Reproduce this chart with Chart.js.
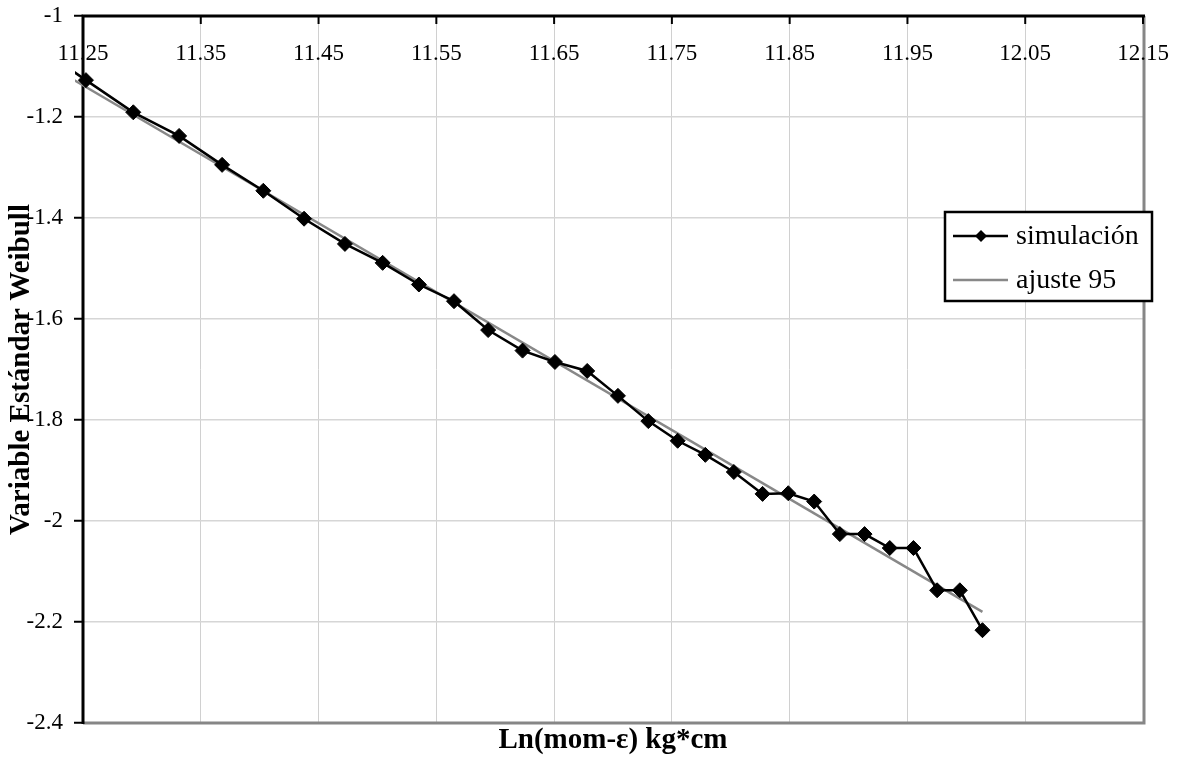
<!DOCTYPE html>
<html>
<head>
<meta charset="utf-8">
<script src="https://cdn.jsdelivr.net/npm/chart.js@4"></script>
<style>
  body { margin: 0; background: #fff; }
  #caja { width: 1184px; height: 759px; }
</style>
</head>
<body>
<div id="caja"><canvas id="grafico"></canvas></div>
<script>
// datos
const simX = [11.22, 11.2525, 11.2927, 11.3316, 11.3681, 11.4031, 11.4377, 11.4724, 11.5044, 11.5352,
  11.565, 11.594, 11.6232, 11.6507, 11.6781, 11.7042, 11.73, 11.7549, 11.7784, 11.8026,
  11.827, 11.8488, 11.8708, 11.8926, 11.9136, 11.935, 11.9551, 11.9752, 11.9945, 12.0137];
const simY = [-1.075, -1.127, -1.1907, -1.2375, -1.2948, -1.3461, -1.4014, -1.4513, -1.4888, -1.5317,
  -1.5647, -1.6219, -1.6626, -1.6851, -1.7029, -1.7522, -1.8022, -1.8411, -1.869, -1.903,
  -1.9463, -1.945, -1.9615, -2.0259, -2.0259, -2.0535, -2.0535, -2.1372, -2.1372, -2.2162];
const ajusteX = [11.22, 12.0137];
const ajusteY = [-1.0962, -2.18];

const ticksX = [11.25, 11.35, 11.45, 11.55, 11.65, 11.75, 11.85, 11.95, 12.05, 12.15];
const ticksY = [-2.4, -2.2, -2, -1.8, -1.6, -1.4, -1.2, -1];

const etiquetas = ['simulación', 'ajuste 95'];
const tituloX = 'Ln(mom-ε) kg*cm';
const tituloY = 'Variable Estándar Weibull';

const FUENTE = "'Liberation Serif', 'Times New Roman', serif";
Chart.defaults.font.family = FUENTE;
Chart.defaults.color = '#000';

function pares(xs, ys) {
  return xs.map((x, i) => ({ x: x, y: ys[i] }));
}

// ejes, marcas, etiquetas de arriba, leyenda y titulo x
const ejesPlugin = {
  id: 'ejes',
  beforeDatasetsDraw(chart) {
    const ctx = chart.ctx;
    const a = chart.chartArea;
    const x = chart.scales.x;
    ctx.save();
    ctx.strokeStyle = '#868686';
    ctx.lineWidth = 3;
    ctx.beginPath();
    ctx.moveTo(a.right + 1, a.top);
    ctx.lineTo(a.right + 1, a.bottom);
    ctx.lineTo(a.left, a.bottom);
    ctx.stroke();

    ctx.strokeStyle = '#000';
    ctx.lineWidth = 3;
    ctx.beginPath();
    ctx.moveTo(a.left, a.bottom + 1);
    ctx.lineTo(a.left, a.top);
    ctx.lineTo(a.right + 2, a.top);
    ctx.stroke();

    ctx.lineWidth = 2;
    ctx.fillStyle = '#000';
    ctx.font = '23px ' + FUENTE;
    ctx.textAlign = 'center';
    ctx.textBaseline = 'middle';
    ticksX.forEach(v => {
      const px = x.getPixelForValue(v);
      ctx.beginPath();
      ctx.moveTo(px, a.top);
      ctx.lineTo(px, a.top + 8);
      ctx.stroke();
      ctx.fillText(v.toFixed(2), px, a.top + 38);
    });
    ctx.restore();
  },
  afterDraw(chart) {
    const ctx = chart.ctx;
    const a = chart.chartArea;
    ctx.save();
    // titulo eje x
    ctx.fillStyle = '#000';
    ctx.font = 'bold 29px ' + FUENTE;
    ctx.textAlign = 'center';
    ctx.textBaseline = 'middle';
    ctx.fillText(tituloX, (a.left + a.right) / 2, a.bottom + 18);

    // leyenda
    const lx = a.right - 198, ly = 212, lw = 207, lh = 89;
    ctx.fillStyle = '#fff';
    ctx.fillRect(lx, ly, lw, lh);
    ctx.strokeStyle = '#000';
    ctx.lineWidth = 2.5;
    ctx.strokeRect(lx, ly, lw, lh);

    const filas = [ly + 24, ly + 68];
    const colores = ['#000', '#888'];
    filas.forEach((fy, i) => {
      ctx.strokeStyle = colores[i];
      ctx.lineWidth = 2.5;
      ctx.beginPath();
      ctx.moveTo(lx + 8, fy);
      ctx.lineTo(lx + 63, fy);
      ctx.stroke();
      if (i === 0) {
        ctx.fillStyle = '#000';
        ctx.beginPath();
        ctx.moveTo(lx + 36 - 6, fy);
        ctx.lineTo(lx + 36, fy - 6);
        ctx.lineTo(lx + 36 + 6, fy);
        ctx.lineTo(lx + 36, fy + 6);
        ctx.closePath();
        ctx.fill();
      }
      ctx.fillStyle = '#000';
      ctx.font = '28px ' + FUENTE;
      ctx.textAlign = 'left';
      ctx.textBaseline = 'middle';
      ctx.fillText(etiquetas[i], lx + 71, fy + 1);
    });
    ctx.restore();
  }
};

const ctx = document.getElementById('grafico').getContext('2d');
new Chart(ctx, {
  type: 'scatter',
  data: {
    datasets: [
      {
        label: etiquetas[0],
        data: pares(simX, simY),
        showLine: true,
        borderColor: '#000',
        borderWidth: 2.5,
        backgroundColor: '#000',
        pointStyle: 'rectRot',
        pointRadius: 7.5,
        pointBorderWidth: 1,
        pointBackgroundColor: '#000',
        pointBorderColor: '#000',
        clip: { left: 8, top: 0, right: 0, bottom: 0 }
      },
      {
        label: etiquetas[1],
        data: pares(ajusteX, ajusteY),
        showLine: true,
        borderColor: '#888',
        borderWidth: 2.5,
        pointRadius: 0,
        clip: { left: 8, top: 0, right: 0, bottom: 0 }
      }
    ]
  },
  options: {
    responsive: true,
    maintainAspectRatio: false,
    animation: false,
    layout: { padding: { left: 0, top: 0, right: 41, bottom: 36 } },
    plugins: {
      legend: { display: false },
      tooltip: { enabled: false }
    },
    scales: {
      x: {
        type: 'linear',
        position: 'top',
        min: 11.25,
        max: 12.15,
        afterBuildTicks: s => { s.ticks = ticksX.map(v => ({ value: v })); },
        afterFit: s => { s.height = 16; s.paddingLeft = 0; s.paddingRight = 0; },
        ticks: { display: false },
        grid: { color: '#d0d0d0', lineWidth: 1, drawTicks: false },
        border: { display: false }
      },
      y: {
        type: 'linear',
        position: 'left',
        min: -2.4,
        max: -1,
        afterBuildTicks: s => { s.ticks = ticksY.map(v => ({ value: v })); },
        afterFit: s => { s.width = 83; s.paddingTop = 0; s.paddingBottom = 0; },
        ticks: {
          padding: 11,
          font: { size: 23 },
          color: '#000',
          callback: v => String(+v.toFixed(2))
        },
        grid: { color: '#d6d6d6', lineWidth: 1.5, tickColor: '#000', tickLength: 9, tickWidth: 2 },
        border: { display: false },
        title: {
          display: true,
          text: tituloY,
          font: { size: 29, weight: 'bold' },
          color: '#000',
          padding: { top: 4, bottom: 0 }
        }
      }
    }
  },
  plugins: [ejesPlugin]
});
</script>
</body>
</html>
